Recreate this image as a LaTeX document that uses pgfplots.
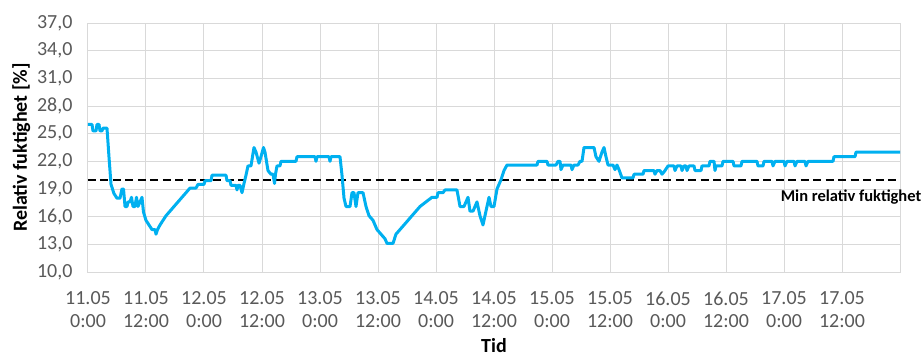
\documentclass[border=0pt]{standalone}
\usepackage{fontspec}
\setmainfont{Carlito}
\usepackage{pgfplots}
\pgfplotsset{compat=1.18}

\definecolor{rhline}{HTML}{00B0F0}
\definecolor{gridgray}{HTML}{D9D9D9}
\definecolor{ticktext}{HTML}{595959}

% Relative humidity, hours from 11.05 0:00
\pgfplotstableread{
h rh
0.00 26.0
0.83 26.0
1.03 25.3
1.66 25.3
1.86 26.0
2.28 26.0
2.48 25.3
2.90 25.3
3.10 25.6
3.93 25.6
4.34 22.5
4.76 19.5
5.38 18.5
6.00 18.0
6.62 18.0
7.03 19.0
7.35 19.0
7.66 17.1
8.07 17.1
8.28 17.6
8.69 17.6
9.00 18.1
9.31 17.1
9.72 17.1
10.03 18.1
10.34 17.1
10.76 17.6
11.17 18.1
11.48 16.5
12.00 15.6
12.62 15.1
13.24 14.6
13.86 14.6
14.07 14.1
14.38 14.6
14.90 15.1
15.52 15.6
16.14 16.1
16.97 16.6
17.79 17.1
18.62 17.6
19.45 18.1
20.28 18.6
21.10 19.1
22.34 19.1
22.76 19.5
24.00 19.5
24.21 19.9
25.45 19.9
25.66 20.5
28.55 20.5
28.76 19.9
29.38 19.9
29.59 19.4
30.62 19.4
30.83 18.9
31.03 19.4
31.45 19.4
31.86 18.6
32.28 19.6
32.69 20.5
33.10 21.5
33.72 21.5
34.34 23.5
34.76 23.0
35.38 21.8
35.79 22.5
36.31 23.5
36.62 23.0
37.24 21.0
37.86 20.6
38.28 20.6
38.59 19.6
38.79 20.6
39.10 21.5
39.72 21.5
39.93 22.0
43.03 22.0
43.24 22.5
46.97 22.5
47.17 22.0
47.38 22.5
49.86 22.5
50.07 22.0
50.28 22.5
52.14 22.5
52.55 20.5
52.97 18.0
53.38 17.1
54.21 17.1
54.62 18.6
55.03 18.6
55.45 17.1
55.86 18.6
56.90 18.6
57.52 17.1
58.14 16.1
58.97 15.6
59.79 14.6
60.62 14.1
61.45 13.6
61.86 13.1
63.10 13.1
63.72 14.1
64.55 14.6
65.38 15.1
66.21 15.6
67.03 16.1
67.86 16.6
68.69 17.1
69.93 17.6
71.17 18.1
72.21 18.1
72.41 18.6
73.45 18.6
73.86 18.9
76.34 18.9
76.97 17.1
77.79 17.1
78.62 18.1
79.03 16.6
79.66 16.6
80.48 17.6
81.10 16.1
81.72 15.1
82.34 16.6
82.97 18.1
83.38 17.1
84.00 17.1
84.62 19.0
85.45 20.0
86.07 21.0
86.69 21.6
92.90 21.6
93.10 22.0
94.97 22.0
95.17 21.6
96.83 21.6
97.24 22.0
97.66 22.0
97.86 21.1
98.28 21.6
99.93 21.6
100.14 21.1
100.55 21.6
101.38 21.6
101.79 22.0
102.21 22.0
102.62 23.5
104.69 23.5
105.10 22.5
105.72 22.0
106.34 23.0
106.76 23.5
107.17 22.5
107.59 21.6
108.62 21.6
109.03 21.1
109.45 21.6
109.86 21.1
110.48 20.2
112.76 20.2
112.97 20.6
114.83 20.6
115.03 21.0
117.10 21.0
117.31 20.6
117.72 21.0
118.34 21.0
118.76 20.6
119.38 21.0
120.00 21.5
121.24 21.5
121.45 21.0
121.86 21.5
122.69 21.5
122.90 21.0
123.31 21.5
123.72 21.5
123.93 21.0
124.34 21.5
125.38 21.5
125.59 21.0
126.83 21.0
127.03 21.5
128.48 21.5
128.69 22.0
129.52 22.0
129.72 21.0
129.93 21.5
131.17 21.5
131.38 22.0
133.45 22.0
133.66 21.5
135.10 21.5
135.31 22.0
138.41 22.0
138.62 21.5
139.66 21.5
139.86 22.0
141.52 22.0
141.72 21.5
142.14 22.0
144.00 22.0
144.21 21.5
144.62 22.0
146.07 22.0
146.28 21.5
146.69 22.0
148.34 22.0
148.55 21.5
148.97 22.0
154.14 22.0
154.34 22.5
158.69 22.5
158.90 23.0
168.00 23.0
}\rhdata

\begin{document}
\begin{tikzpicture}
\begin{axis}[
  scale only axis,
  width=812pt, height=249pt,
  at={(0,0)}, anchor=south west,
  xmin=0, xmax=168, ymin=10, ymax=37,
  xtick={0,12,...,168},
  xticklabels={{11.05\\0:00},{11.05\\12:00},{12.05\\0:00},{12.05\\12:00},
    {13.05\\0:00},{13.05\\12:00},{14.05\\0:00},{14.05\\12:00},
    {15.05\\0:00},{15.05\\12:00},{16.05\\0:00},{16.05\\12:00},
    {17.05\\0:00},{17.05\\12:00},{}},
  ytick={10,13,...,37},
  /pgf/number format/fixed,
  /pgf/number format/fixed zerofill,
  /pgf/number format/precision=1,
  /pgf/number format/use comma,
  /pgf/number format/assume math mode=true,
  grid=major,
  major grid style={gridgray, line width=1pt},
  axis line style={gridgray, line width=1pt},
  major tick length=0pt,
  tick label style={font=\fontsize{20}{22.5}\selectfont, text=ticktext},
  xticklabel style={align=center, yshift=-16pt},
  yticklabel style={xshift=-12pt},
  xlabel={\textbf{Tid}},
  ylabel={\textbf{Relativ fuktighet [\%]}},
  label style={font=\fontsize{20}{23}\selectfont},
  xlabel style={yshift=-4pt},
  ylabel style={yshift=0pt},
  clip=false,
]
\addplot[black, line width=2pt, dash pattern=on 8pt off 4.5pt] coordinates {(0,20) (168,20)};
\addplot[rhline, line width=3pt, line join=round] table[x=h, y=rh] {\rhdata};
\node[anchor=west, font=\fontsize{16.5}{19}\selectfont\bfseries, inner sep=0pt] at (axis cs:143.3,18.1) {Min relativ fuktighet};
\end{axis}
\pgfresetboundingbox
\path[use as bounding box] (-88pt,-87pt) rectangle (836pt,272pt);
\end{tikzpicture}
\end{document}
